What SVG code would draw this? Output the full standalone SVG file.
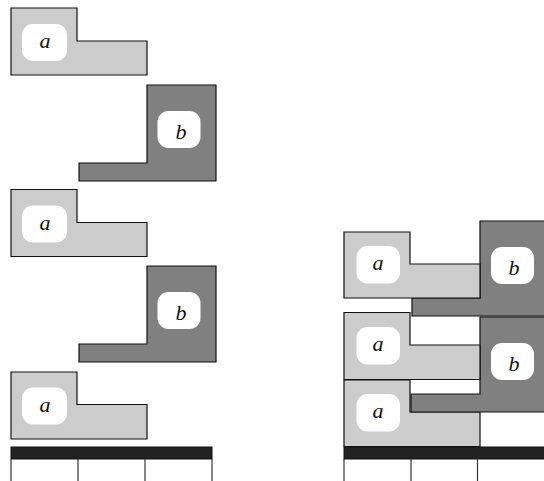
<svg xmlns="http://www.w3.org/2000/svg" width="544" height="481" viewBox="0 0 544 481">
<style>
.pa{fill:#cccccc;stroke:#111;stroke-width:1.2}
.pb{fill:#808080;stroke:#111;stroke-width:1.2}
.lb{fill:#ffffff;stroke:none}
.t{font-family:"Liberation Serif","DejaVu Serif",serif;font-style:italic;font-size:22px;fill:#111;text-anchor:middle}
.bar{fill:#222222;stroke:#111;stroke-width:1}
.tick{stroke:#333;stroke-width:1.2}
</style>
<rect width="544" height="481" fill="#ffffff"/>
<g id="left-a1">
<path class="pa" d="M11,8 H77 V41 H147 V75 H11 Z"/>
<rect class="lb" x="22" y="24" width="45" height="37" rx="11"/>
<text class="t" x="45" y="48">a</text>
</g>
<g id="left-b1">
<path class="pb" d="M79,163 H147 V85 H216 V181 H79 Z"/>
<rect class="lb" x="157.5" y="111" width="43" height="37" rx="11"/>
<text class="t" x="181" y="138.5">b</text>
</g>
<g id="left-a2">
<path class="pa" d="M11,189.5 H77 V222.5 H147 V256.5 H11 Z"/>
<rect class="lb" x="22" y="205.5" width="45" height="37" rx="11"/>
<text class="t" x="45" y="229.5">a</text>
</g>
<g id="left-b2">
<path class="pb" d="M79,344 H147 V266 H216 V362 H79 Z"/>
<rect class="lb" x="157.5" y="292" width="43" height="37" rx="11"/>
<text class="t" x="181" y="319.5">b</text>
</g>
<g id="left-a3">
<path class="pa" d="M11,372 H77 V404.5 H147 V439 H11 Z"/>
<rect class="lb" x="22" y="387.5" width="45" height="37" rx="11"/>
<text class="t" x="45" y="411.5">a</text>
</g>
<g id="left-axis">
<rect class="bar" x="11" y="447" width="201" height="12"/>
<line class="tick" x1="11" y1="459" x2="11" y2="481"/>
<line class="tick" x1="78" y1="459" x2="78" y2="481"/>
<line class="tick" x1="145" y1="459" x2="145" y2="481"/>
<line class="tick" x1="212" y1="459" x2="212" y2="481"/>
</g>
<g id="right-a3">
<path class="pa" d="M344,380 H410 V412 H480 V446.5 H344 Z"/>
<rect class="lb" x="356.5" y="394" width="43.5" height="37.5" rx="11"/>
<text class="t" x="378" y="418">a</text>
</g>
<g id="right-b2">
<path class="pb" d="M411,394 H480 V317 H550 V412 H411 Z"/>
<rect class="lb" x="491" y="343" width="43" height="37" rx="11"/>
<text class="t" x="514" y="370.5">b</text>
</g>
<g id="right-a2">
<path class="pa" d="M344,312.5 H410 V345 H480 V379.5 H344 Z"/>
<rect class="lb" x="356.5" y="327" width="43.5" height="37.5" rx="11"/>
<text class="t" x="378" y="351">a</text>
</g>
<g id="right-b1">
<path class="pb" d="M412,298 H480 V221 H550 V316 H412 Z"/>
<rect class="lb" x="491" y="247" width="43" height="37" rx="11"/>
<text class="t" x="514" y="274.5">b</text>
</g>
<g id="right-a1">
<path class="pa" d="M344,232 H410 V264 H480 V298 H344 Z"/>
<rect class="lb" x="356.5" y="246" width="43.5" height="37.5" rx="11"/>
<text class="t" x="378" y="270">a</text>
</g>
<g id="right-axis">
<rect class="bar" x="344" y="447" width="210" height="12"/>
<line class="tick" x1="344" y1="459" x2="344" y2="481"/>
<line class="tick" x1="411" y1="459" x2="411" y2="481"/>
<line class="tick" x1="477.5" y1="459" x2="477.5" y2="481"/>
</g>
</svg>
